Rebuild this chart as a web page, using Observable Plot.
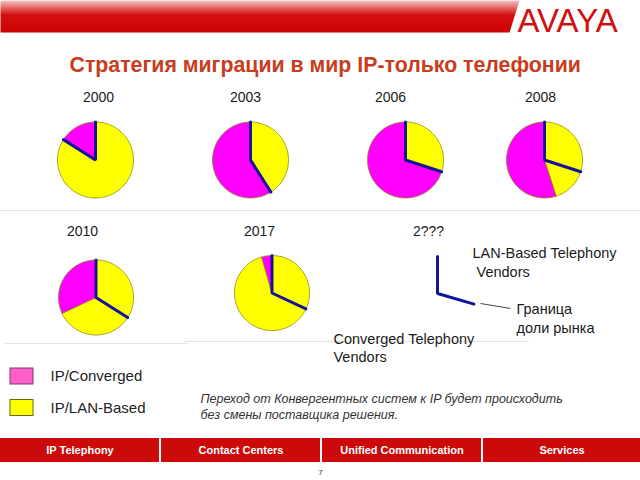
<!DOCTYPE html>
<html><head><meta charset="utf-8">
<script src="https://cdn.jsdelivr.net/npm/d3@7"></script>
<script src="https://cdn.jsdelivr.net/npm/@observablehq/plot@0.6"></script>
<style>body{margin:0;background:#fff;} #chart svg{display:block;}</style>
</head><body><div id="chart"></div>
<script>
// ---- data ----
const years = ["2000", "2003", "2006", "2008", "2010", "2017"];
const lanBasedShare = [0.84, 0.41, 0.30, 0.45, 0.68, 0.955];   // IP/LAN-Based (yellow) share
const lanVendorShare = [0.84, 0.41, 0.30, 0.30, 0.34, 0.32];   // market-share boundary (blue line)
const seriesNames = ["IP/Converged", "IP/LAN-Based"];
const futureYear = "2???";
const futureBoundary = 0.295;
const titleText = "Стратегия миграции в мир IP-только телефонии";
const vendorLabels = ["LAN-Based Telephony", " Vendors", "Граница", "доли рынка", "Converged Telephony", "Vendors"];
const noteLines = ["Переход от Конвергентных систем к IP будет происходить", "без смены поставщика решения."];
const tabs = ["IP Telephony", "Contact Centers", "Unified Communication", "Services"];
const pageNumber = "7";

// ---- layout ----
const pieLayout = [
  {cx: 95, cy: 159.5, r: 38, lx: 98, ly: 97},
  {cx: 250, cy: 159.5, r: 38, lx: 245, ly: 97},
  {cx: 405, cy: 159.5, r: 38, lx: 390, ly: 97},
  {cx: 544, cy: 159.5, r: 38, lx: 540, ly: 97},
  {cx: 95.5, cy: 297, r: 37.5, lx: 82, ly: 231},
  {cx: 271.5, cy: 292.5, r: 37.5, lx: 259, ly: 231}
];
const futureLayout = {cx: 437, cy: 293, r: 38, lx: 428, ly: 231};
const colors = {"IP/Converged": "#ff00ff", "IP/LAN-Based": "#ffff00"};
const legendColors = ["#ff5ccc", "#ffff00"];

function pt(L, a, rr) {
  const t = a * 2 * Math.PI, r = rr ?? L.r;
  return [L.cx + r * Math.sin(t), L.cy - r * Math.cos(t)];
}

// slices
const slicePts = [];
years.forEach((yr, i) => {
  const L = pieLayout[i];
  const b = lanVendorShare[i], y = lanBasedShare[i];
  const parts = [[0, b, "IP/LAN-Based"], [b, y, "IP/LAN-Based"], [y, 1, "IP/Converged"]];
  parts.forEach(([s, e, series], k) => {
    if (e - s <= 1e-6) return;
    const key = yr + "-" + k;
    slicePts.push({key, series, x: L.cx, y: L.cy});
    const n = Math.max(2, Math.ceil((e - s) * 180));
    for (let j = 0; j <= n; j++) {
      const [x, yy] = pt(L, s + (e - s) * j / n);
      slicePts.push({key, series, x, y: yy});
    }
  });
});

// boundary polylines
const boundaryPts = [];
years.forEach((yr, i) => {
  const L = pieLayout[i];
  const [tx, ty] = pt(L, 0), [bx, by] = pt(L, lanVendorShare[i]);
  boundaryPts.push({key: yr, x: tx, y: ty}, {key: yr, x: L.cx, y: L.cy}, {key: yr, x: bx, y: by});
});
{
  const L = futureLayout;
  const [tx, ty] = pt(L, 0), [bx, by] = pt(L, futureBoundary);
  boundaryPts.push({key: futureYear, x: tx, y: ty + 1}, {key: futureYear, x: L.cx, y: L.cy}, {key: futureYear, x: bx, y: by});
}

const yearLabels = years.map((yr, i) => ({text: yr, x: pieLayout[i].lx, y: pieLayout[i].ly}))
  .concat([{text: futureYear, x: futureLayout.lx, y: futureLayout.ly}]);

const vendorPos = [[472, 253], [472, 272], [516, 309], [516, 328], [333, 339], [333, 357]];
const vendorText = vendorLabels.map((t, i) => ({text: t, x: vendorPos[i][0], y: vendorPos[i][1]}));

const legend = seriesNames.map((s, i) => ({text: s, fill: legendColors[i], stroke: i ? "#6a6a10" : "#7a3a6a",
  x1: 10, x2: 33, y1: 368 + i * 31.5, y2: 384 + i * 31.5, tx: 50, ty: 376 + i * 32}));

const noteText = noteLines.map((t, i) => ({text: t, x: 200, y: 398 + i * 16}));

const tabEdges = [0, 160, 321, 482, 640];
const tabData = tabs.map((t, i) => ({text: t, x1: tabEdges[i] + (i ? 1 : 0), x2: tabEdges[i + 1] - (i < 3 ? 1 : 0), y1: 438, y2: 462}));

const headerPoly = [[0, 0], [519, 0], [509, 32], [0, 32]].map(([x, y]) => ({x, y}));

const sepLines = [
  {k: "a", x: 0, y: 210}, {k: "a", x: 640, y: 210},
  {k: "b", x: 5, y: 343}, {k: "b", x: 187, y: 343},
  {k: "c", x: 183, y: 341}, {k: "c", x: 528, y: 341}
];

const font = "'Liberation Sans', Arial, sans-serif";

const chart = Plot.plot({
  width: 640, height: 480,
  margin: 0,
  style: {fontFamily: font, background: "#fff"},
  x: {domain: [0, 640], range: [0, 640], axis: null},
  y: {domain: [0, 480], range: [0, 480], axis: null},
  color: {domain: seriesNames, range: seriesNames.map(s => colors[s])},
  marks: [
    // header band
    Plot.line(headerPoly, {x: "x", y: "y", fill: "url(#hdrGrad)", stroke: "none", curve: "linear-closed"}),
    Plot.text(["AVAYA"], {x: 517, y: 21, text: d => d, textAnchor: "start", fontSize: 33, fill: "#d01010", fontWeight: 400, letterSpacing: 3}),
    // separators
    Plot.line(sepLines, {x: "x", y: "y", z: "k", stroke: "#e4e4e4", strokeWidth: 1.2}),
    // title
    Plot.text([titleText], {x: 69, y: 64.5, text: d => d, textAnchor: "start", fontSize: 21.3, fontWeight: "bold", fill: "#c83c20"}),
    // pies
    Plot.line(slicePts, {x: "x", y: "y", z: "key", fill: "series", stroke: "#8a8a10", strokeWidth: 0.8, curve: "linear-closed"}),
    Plot.line(boundaryPts, {x: "x", y: "y", z: "key", stroke: "#12129a", strokeWidth: 3, strokeLinejoin: "miter"}),
    Plot.text(yearLabels, {x: "x", y: "y", text: "text", fontSize: 14, fill: "#1a1a1a"}),
    // vendor annotation
    Plot.link([{x1: 480, y1: 303, x2: 510, y2: 308}], {x1: "x1", y1: "y1", x2: "x2", y2: "y2", stroke: "#444", strokeWidth: 1}),
    Plot.text(vendorText, {x: "x", y: "y", text: "text", textAnchor: "start", fontSize: 14.5, fill: "#1a1a1a"}),
    // legend
    Plot.rect(legend, {x1: "x1", x2: "x2", y1: "y1", y2: "y2", fill: "fill", stroke: "stroke", strokeWidth: 1}),
    Plot.text(legend, {x: "tx", y: "ty", text: "text", textAnchor: "start", fontSize: 15, fill: "#222"}),
    // note
    Plot.text(noteText, {x: "x", y: "y", text: "text", textAnchor: "start", fontSize: 12.5, fontStyle: "italic", fill: "#333"}),
    // bottom tabs
    Plot.rect(tabData, {x1: "x1", x2: "x2", y1: "y1", y2: "y2", fill: "#cc0a0a"}),
    Plot.text(tabData, {x: d => (d.x1 + d.x2) / 2, y: 450, text: "text", fontSize: 11, fontWeight: "bold", fill: "#fff"}),
    Plot.text([pageNumber], {x: 320, y: 472, text: d => d, fontSize: 8, fill: "#333"})
  ]
});

// gradient for the header band
const svgSel = d3.select(chart);
const defs = svgSel.insert("defs", ":first-child");
const g = defs.append("linearGradient").attr("id", "hdrGrad").attr("x1", 0).attr("y1", 0).attr("x2", 0).attr("y2", 1);
g.append("stop").attr("offset", "0%").attr("stop-color", "#f2c4c4");
g.append("stop").attr("offset", "30%").attr("stop-color", "#e04848");
g.append("stop").attr("offset", "45%").attr("stop-color", "#d41010");
g.append("stop").attr("offset", "100%").attr("stop-color", "#cc0000");

document.getElementById("chart").appendChild(chart);
</script>
</body></html>
